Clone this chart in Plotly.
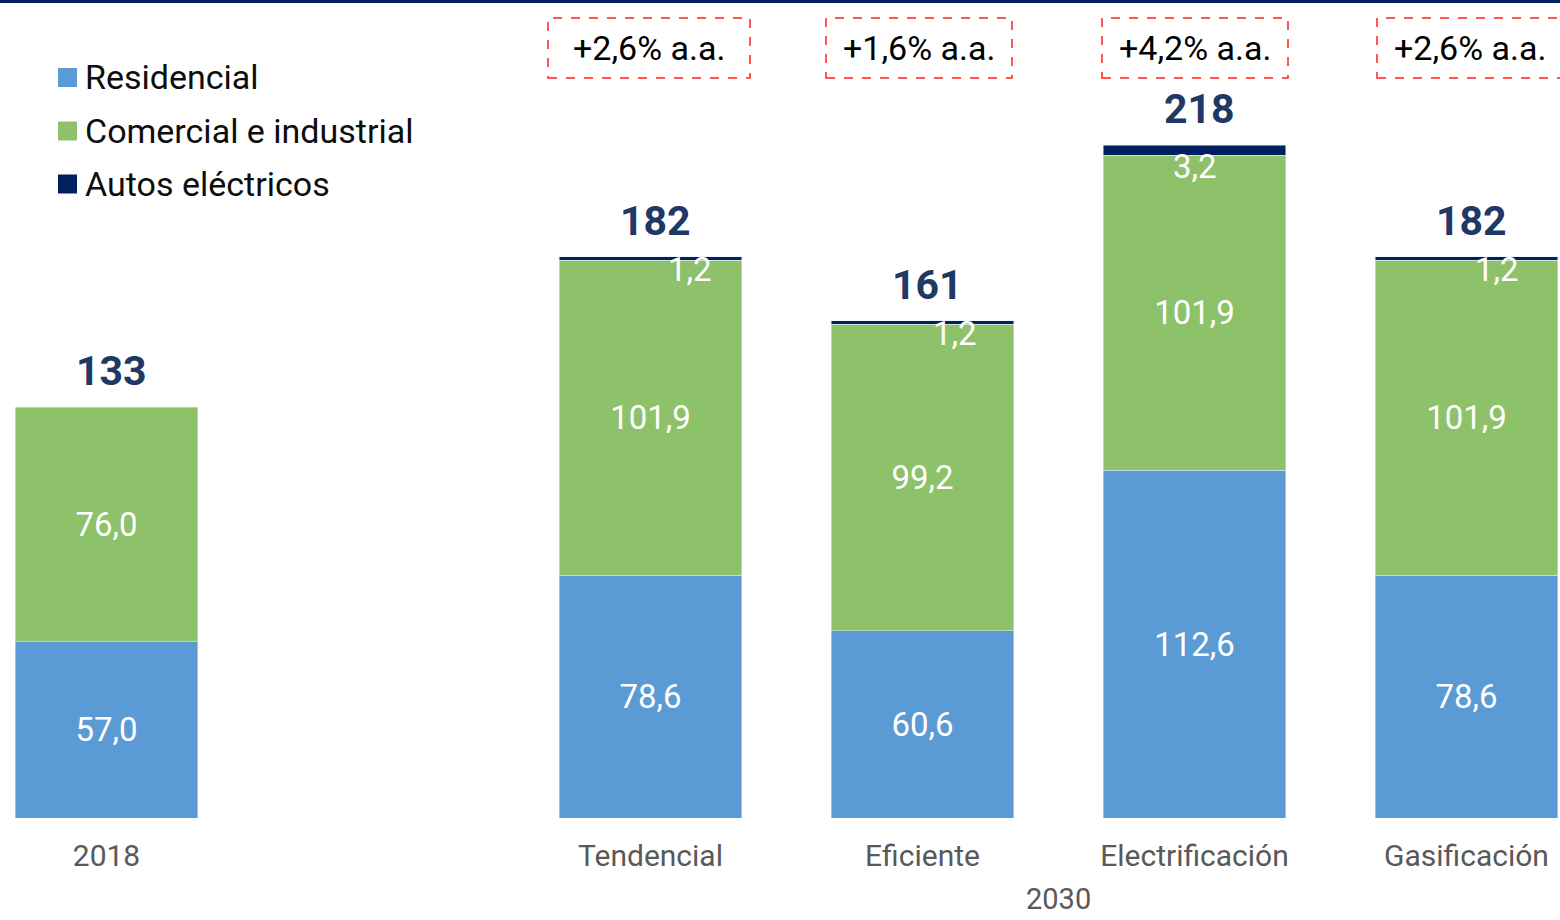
import plotly.graph_objects as go

# ── Data ───────────────────────────────────────────────────────────
categories = ["2018", " ", "Tendencial", "Eficiente", "Electrificación", "Gasificación"]
residencial = [57.0, None, 78.6, 60.6, 112.6, 78.6]
comercial = [76.0, None, 101.9, 99.2, 101.9, 101.9]
autos = [None, None, 1.2, 1.2, 3.2, 1.2]
totals = ["133", "", "182", "161", "218", "182"]
growth_labels = ["", "", "+2,6% a.a.", "+1,6% a.a.", "+4,2% a.a.", "+2,6% a.a."]
group_label = "2030"

series_names = ["Residencial", "Comercial e industrial", "Autos eléctricos"]
series_values = [residencial, comercial, autos]

# ── Style ──────────────────────────────────────────────────────────
COLORS = ["#5B9BD5", "#8DC16A", "#002060"]
TOTAL_COLOR = "#203864"
FONT = "Roboto, Arial, sans-serif"
W, H = 1560, 920
BASE_PX = 818               # pixel row of the zero line
PX_PER_UNIT = 3.09
SLOT_PX = 272
FIRST_CENTER_PX = 106.5
YMAX = BASE_PX / PX_PER_UNIT


def px_to_paper_y(p):
    return (BASE_PX - p) / BASE_PX


fig = go.Figure()
for name, vals, col in zip(series_names, series_values, COLORS):
    is_autos = name == "Autos eléctricos"
    fig.add_trace(go.Bar(
        name=name,
        x=categories,
        y=vals,
        marker_color=col,
        width=0.67,
        texttemplate=None if is_autos else "%{y:.1f}",
        textposition="none" if is_autos else "inside",
        insidetextanchor="middle",
        textfont=dict(family=FONT, size=33, color="white"),
        showlegend=False,
        hoverinfo="skip",
    ))

annotations = []
shapes = []

# totals above each bar
for i, (r, c, a, t) in enumerate(zip(residencial, comercial, autos, totals)):
    if not t:
        continue
    top = sum(v for v in (r, c, a) if v is not None)
    annotations.append(dict(
        x=i, y=top, xref="x", yref="y", text=f"<b>{t}</b>",
        showarrow=False, yanchor="middle", yshift=36, xshift=5,
        font=dict(family=FONT, size=41, color=TOTAL_COLOR),
    ))

# small labels for the electric-car segment
autos_shift = {"Tendencial": (39, -13), "Eficiente": (32, -13),
               "Electrificación": (0, -21), "Gasificación": (30, -13)}
for i, (cat, r, c, a) in enumerate(zip(categories, residencial, comercial, autos)):
    if a is None:
        continue
    xs, ys = autos_shift.get(cat, (0, -13))
    annotations.append(dict(
        x=i, y=r + c + a, xref="x", yref="y",
        text=f"{a:.1f}".replace(".", ","),
        showarrow=False, yanchor="middle", xshift=xs, yshift=ys,
        font=dict(family=FONT, size=33, color="white"),
    ))

# growth boxes (dashed red)
box_half = {"Tendencial": 101, "Eficiente": 93, "Electrificación": 93, "Gasificación": 93}
box_center = {"Tendencial": 649, "Eficiente": 919, "Electrificación": 1195, "Gasificación": 1470}
for i, (cat, g) in enumerate(zip(categories, growth_labels)):
    if not g:
        continue
    cx = (box_center[cat] - FIRST_CENTER_PX) / SLOT_PX
    hw = box_half[cat] / SLOT_PX
    shapes.append(dict(
        type="rect", xref="x", yref="paper",
        x0=cx - hw, x1=cx + hw,
        y0=px_to_paper_y(78), y1=px_to_paper_y(18),
        line=dict(color="#FF2020", width=1.5, dash="dash"),
    ))
    annotations.append(dict(
        x=i, y=px_to_paper_y(48), xref="x", yref="paper", text=g,
        showarrow=False, yanchor="middle",
        xshift=(box_center[cat] - FIRST_CENTER_PX - i * SLOT_PX),
        font=dict(family=FONT, size=34, color="#000000"),
    ))

# "2030" group label below the scenario ticks
annotations.append(dict(
    x=3.5, y=px_to_paper_y(899), xref="x", yref="paper", text=group_label,
    showarrow=False, yanchor="middle",
    font=dict(family=FONT, size=29, color="#595959"),
))

# hand-made legend
legend_rows = [77.5, 131, 184]
for name, col, row in zip(series_names, COLORS, legend_rows):
    shapes.append(dict(
        type="rect", xref="paper", yref="paper",
        x0=58 / W, x1=77 / W,
        y0=px_to_paper_y(row + 9.5), y1=px_to_paper_y(row - 9.5),
        line=dict(width=0), fillcolor=col,
    ))
    annotations.append(dict(
        x=83 / W, y=px_to_paper_y(row), xref="paper", yref="paper", text=name,
        showarrow=False, xanchor="left", yanchor="middle",
        font=dict(family=FONT, size=34, color="#0D0D0D"),
    ))

# navy rule along the top edge
shapes.append(dict(
    type="rect", xref="paper", yref="paper",
    x0=0, x1=1, y0=px_to_paper_y(3), y1=1,
    line=dict(width=0), fillcolor="#002060",
))

fig.update_layout(
    width=W, height=H,
    margin=dict(l=0, r=0, t=0, b=H - BASE_PX),
    barmode="stack",
    separators=",.",
    plot_bgcolor="white",
    paper_bgcolor="white",
    font=dict(family=FONT),
    showlegend=False,
    annotations=annotations,
    shapes=shapes,
    xaxis=dict(
        range=[-FIRST_CENTER_PX / SLOT_PX, (W - FIRST_CENTER_PX) / SLOT_PX],
        showgrid=False, zeroline=False, showline=False, ticks="",
        tickfont=dict(family=FONT, size=30, color="#595959"),
        ticklabelstandoff=17,
    ),
    yaxis=dict(range=[0, YMAX], visible=False),
)

fig.write_html("out.html", config={"displayModeBar": False},
               post_script="document.body.style.margin='0';")
